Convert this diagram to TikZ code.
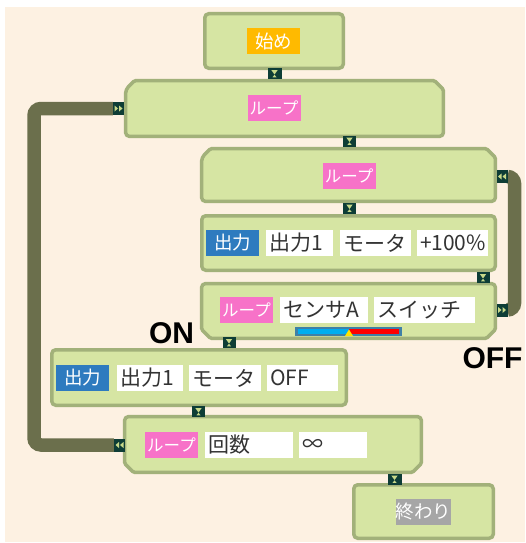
\documentclass[tikz,border=0pt]{standalone}
\usepackage{fontspec}
\newfontfamily\jp{Noto Sans CJK JP}
\newfontfamily\lab{Liberation Sans}
\usetikzlibrary{calc}
\definecolor{bgcream}{HTML}{FDF1E2}
\definecolor{blockfill}{HTML}{D6E5A3}
\definecolor{blockline}{HTML}{A2B17A}
\definecolor{conndark}{HTML}{0E3D36}
\definecolor{connmark}{HTML}{C8D98A}
\definecolor{barcol}{HTML}{6B6F4C}
\definecolor{pinklab}{HTML}{F772C8}
\definecolor{bluelab}{HTML}{2E7BBF}
\definecolor{orangelab}{HTML}{FFBA00}
\definecolor{graylab}{HTML}{A6A6A6}
\definecolor{fieldtext}{HTML}{333333}
\definecolor{barframe}{HTML}{3F80A6}
\definecolor{cyanbar}{HTML}{00AEEF}
\definecolor{redbar}{HTML}{FF0000}
\definecolor{yellowbar}{HTML}{FFE400}
\tikzset{
  block/.style={rectangle, draw=blockline, fill=blockfill, line width=3.5pt, rounded corners=4pt, inner sep=0pt},
  blockbox/.style={rectangle, inner sep=0pt},
  blockdraw/.style={draw=blockline, fill=blockfill, line width=3.5pt, rounded corners=1.5pt, line join=round},
  tag/.style={rectangle, inner sep=0pt, minimum width=53pt, minimum height=26pt, text=white, font=\jp\fontsize{18.5}{18.5}\selectfont},
  looptag/.style={tag, fill=pinklab, font=\jp\fontsize{16.5}{16.5}\selectfont},
  field/.style={rectangle, fill=white, inner xsep=3pt, inner ysep=0pt, minimum height=26pt, text=fieldtext, align=left, text width=#1, font=\jp\fontsize{21}{21}\selectfont},
  vconn/.style={rectangle, fill=conndark, minimum width=13pt, minimum height=11pt, inner sep=0pt,
    path picture={
      \fill[connmark] ($(path picture bounding box.center)+(-3.2pt,3.5pt)$) -- ++(6.4pt,0pt) -- ++(-3.2pt,-4.5pt) -- cycle;
      \fill[connmark] ($(path picture bounding box.center)+(-2pt,-3.8pt)$) -- ++(4pt,0pt) -- ++(-2pt,2.5pt) -- cycle;
    }},
  hconnr/.style={rectangle, fill=conndark, minimum width=11pt, minimum height=13pt, inner sep=0pt,
    path picture={
      \fill[connmark] ($(path picture bounding box.center)+(-4pt,3pt)$) -- ++(0pt,-6pt) -- ++(3.5pt,3pt) -- cycle;
      \fill[connmark] ($(path picture bounding box.center)+(0.5pt,3pt)$) -- ++(0pt,-6pt) -- ++(3.5pt,3pt) -- cycle;
    }},
  hconnl/.style={rectangle, fill=conndark, minimum width=11pt, minimum height=13pt, inner sep=0pt,
    path picture={
      \fill[connmark] ($(path picture bounding box.center)+(4pt,3pt)$) -- ++(0pt,-6pt) -- ++(-3.5pt,3pt) -- cycle;
      \fill[connmark] ($(path picture bounding box.center)+(-0.5pt,3pt)$) -- ++(0pt,-6pt) -- ++(-3.5pt,3pt) -- cycle;
    }},
  loopbar/.style={draw=barcol, line width=13.5pt, rounded corners=7pt},
  bigtext/.style={inner sep=0pt, font=\lab\bfseries\fontsize{30}{30}\selectfont, text=black}
}
% outline of a loop-start block (top corners cut) and a loop-end block (bottom corners cut)
\newcommand\chamtopoutline[1]{%
  \filldraw[blockdraw] ([yshift=-9pt]#1.north west) -- ([xshift=9pt]#1.north west)
    -- ([xshift=-9pt]#1.north east) -- ([yshift=-9pt]#1.north east)
    [rounded corners=4pt] -- (#1.south east) -- (#1.south west) -- cycle;}
\newcommand\chambotoutline[1]{%
  \filldraw[blockdraw] (#1.north west) [rounded corners=4pt] -- (#1.north east)
    [rounded corners=1.5pt] -- ([yshift=9pt]#1.south east) -- ([xshift=-9pt]#1.south east)
    -- ([xshift=9pt]#1.south west) -- ([yshift=9pt]#1.south west) [rounded corners=4pt] -- cycle;}
\begin{document}
\begin{tikzpicture}[x=1pt,y=-1pt]
\useasboundingbox (0,0) rectangle (525,543);
\fill[white] (0,0) rectangle (525,543);
\fill[bgcream] (5,7) rectangle (525,542);

% side connector positions
\node[hconnr] (cL1) at (118.5,108.5) {};
\node[hconnl] (cL2) at (119.5,445) {};
\node[hconnl] (cR1) at (502,176.5) {};
\node[hconnr] (cR2) at (502,310) {};
\coordinate (lb) at (34,0);
\coordinate (rb) at (514.5,0);

% loop bars
\draw[loopbar] (cL1.west) -| (lb |- cL2.west) -- (cL2.west);
\draw[loopbar] (cR1.east) -| (rb |- cR2.east) -- (cR2.east);

% blocks
\node[block, minimum width=138.5pt, minimum height=54.5pt] (S) at (274,41) {};
\node[blockbox, minimum width=317.5pt, minimum height=55.5pt] (L1) at (284.5,108.5) {};
\chamtopoutline{L1}
\node[blockbox, minimum width=293.5pt, minimum height=52.5pt] (L2) at (348.5,175) {};
\chamtopoutline{L2}
\node[block, minimum width=293.5pt, minimum height=54.5pt] (O1) at (348.5,243) {};
\node[blockbox, minimum width=293.5pt, minimum height=54.5pt] (E2) at (348.5,311) {};
\chambotoutline{E2}
\node[block, minimum width=294.5pt, minimum height=55.5pt] (O2) at (199,377.5) {};
\node[blockbox, minimum width=296.5pt, minimum height=55.5pt] (E1) at (273,444.5) {};
\chambotoutline{E1}
\node[block, minimum width=139.5pt, minimum height=53.5pt] (F) at (423.5,511.5) {};

% side connectors on top of blocks
\node[hconnr] at (cL1) {};
\node[hconnl] at (cL2) {};
\node[hconnl] at (cR1) {};
\node[hconnr] at (cR2) {};

% tags
\node[tag, fill=orangelab] (tS) at (273.5,41.5) {始め};
\node[looptag] (tL1) at (274,108) {ループ};
\node[looptag] (tL2) at (349,176) {ループ};
\node[tag, fill=bluelab] (tO1) at (232.5,243) {出力};
\node[looptag] (tE2) at (246.5,310) {ループ};
\node[tag, fill=bluelab] (tO2) at (82.5,378) {出力};
\node[looptag] (tE1) at (171.5,445) {ループ};
\node[tag, fill=graylab] (tF) at (423.5,512) {終わり};

% fields
\node[field=61pt] (fO1a) at (299.5,243) {出力1};
\node[field=65pt] (fO1b) at (375.5,243) {モータ};
\node[field=65pt] (fO1c) at (452.5,243) {+100\%};
\node[field=82pt] (fE2a) at (324,310) {センサA};
\node[field=95pt] (fE2b) at (424.5,310) {スイッチ};
\node[field=60pt] (fO2a) at (150,378) {出力1};
\node[field=66pt] (fO2b) at (225,378) {モータ};
\node[field=65pt] (fO2c) at (302.5,378) {OFF};
\node[field=82pt] (fE1a) at (249,445) {回数};
\node[field=62pt] (fE1b) at (333,445) {∞};

% sensor colour bar
\fill[barframe] (295,327) rectangle (402,335.5);
\fill[cyanbar] (298,328.5) rectangle (349,334);
\fill[redbar] (349,328.5) rectangle (399,334);
\fill[yellowbar] (345,336) -- (353,336) -- (349,329.5) -- cycle;

% vertical connectors
\node[vconn, minimum width=14pt] (c1) at (274.5,73.5) {};
\node[vconn] (c2) at (349.5,141) {};
\node[vconn] (c3) at (349.5,208) {};
\node[vconn] (c4) at (483,277.5) {};
\node[vconn] (c5) at (229,342.5) {};
\node[vconn] (c6) at (198.5,411.5) {};
\node[vconn, minimum width=14pt] (c7) at (394.5,479) {};

% branch labels
\node[bigtext] (on) at (171.5,333.5) {ON};
\node[bigtext] (off) at (492.5,358.5) {OFF};
\end{tikzpicture}
\end{document}
